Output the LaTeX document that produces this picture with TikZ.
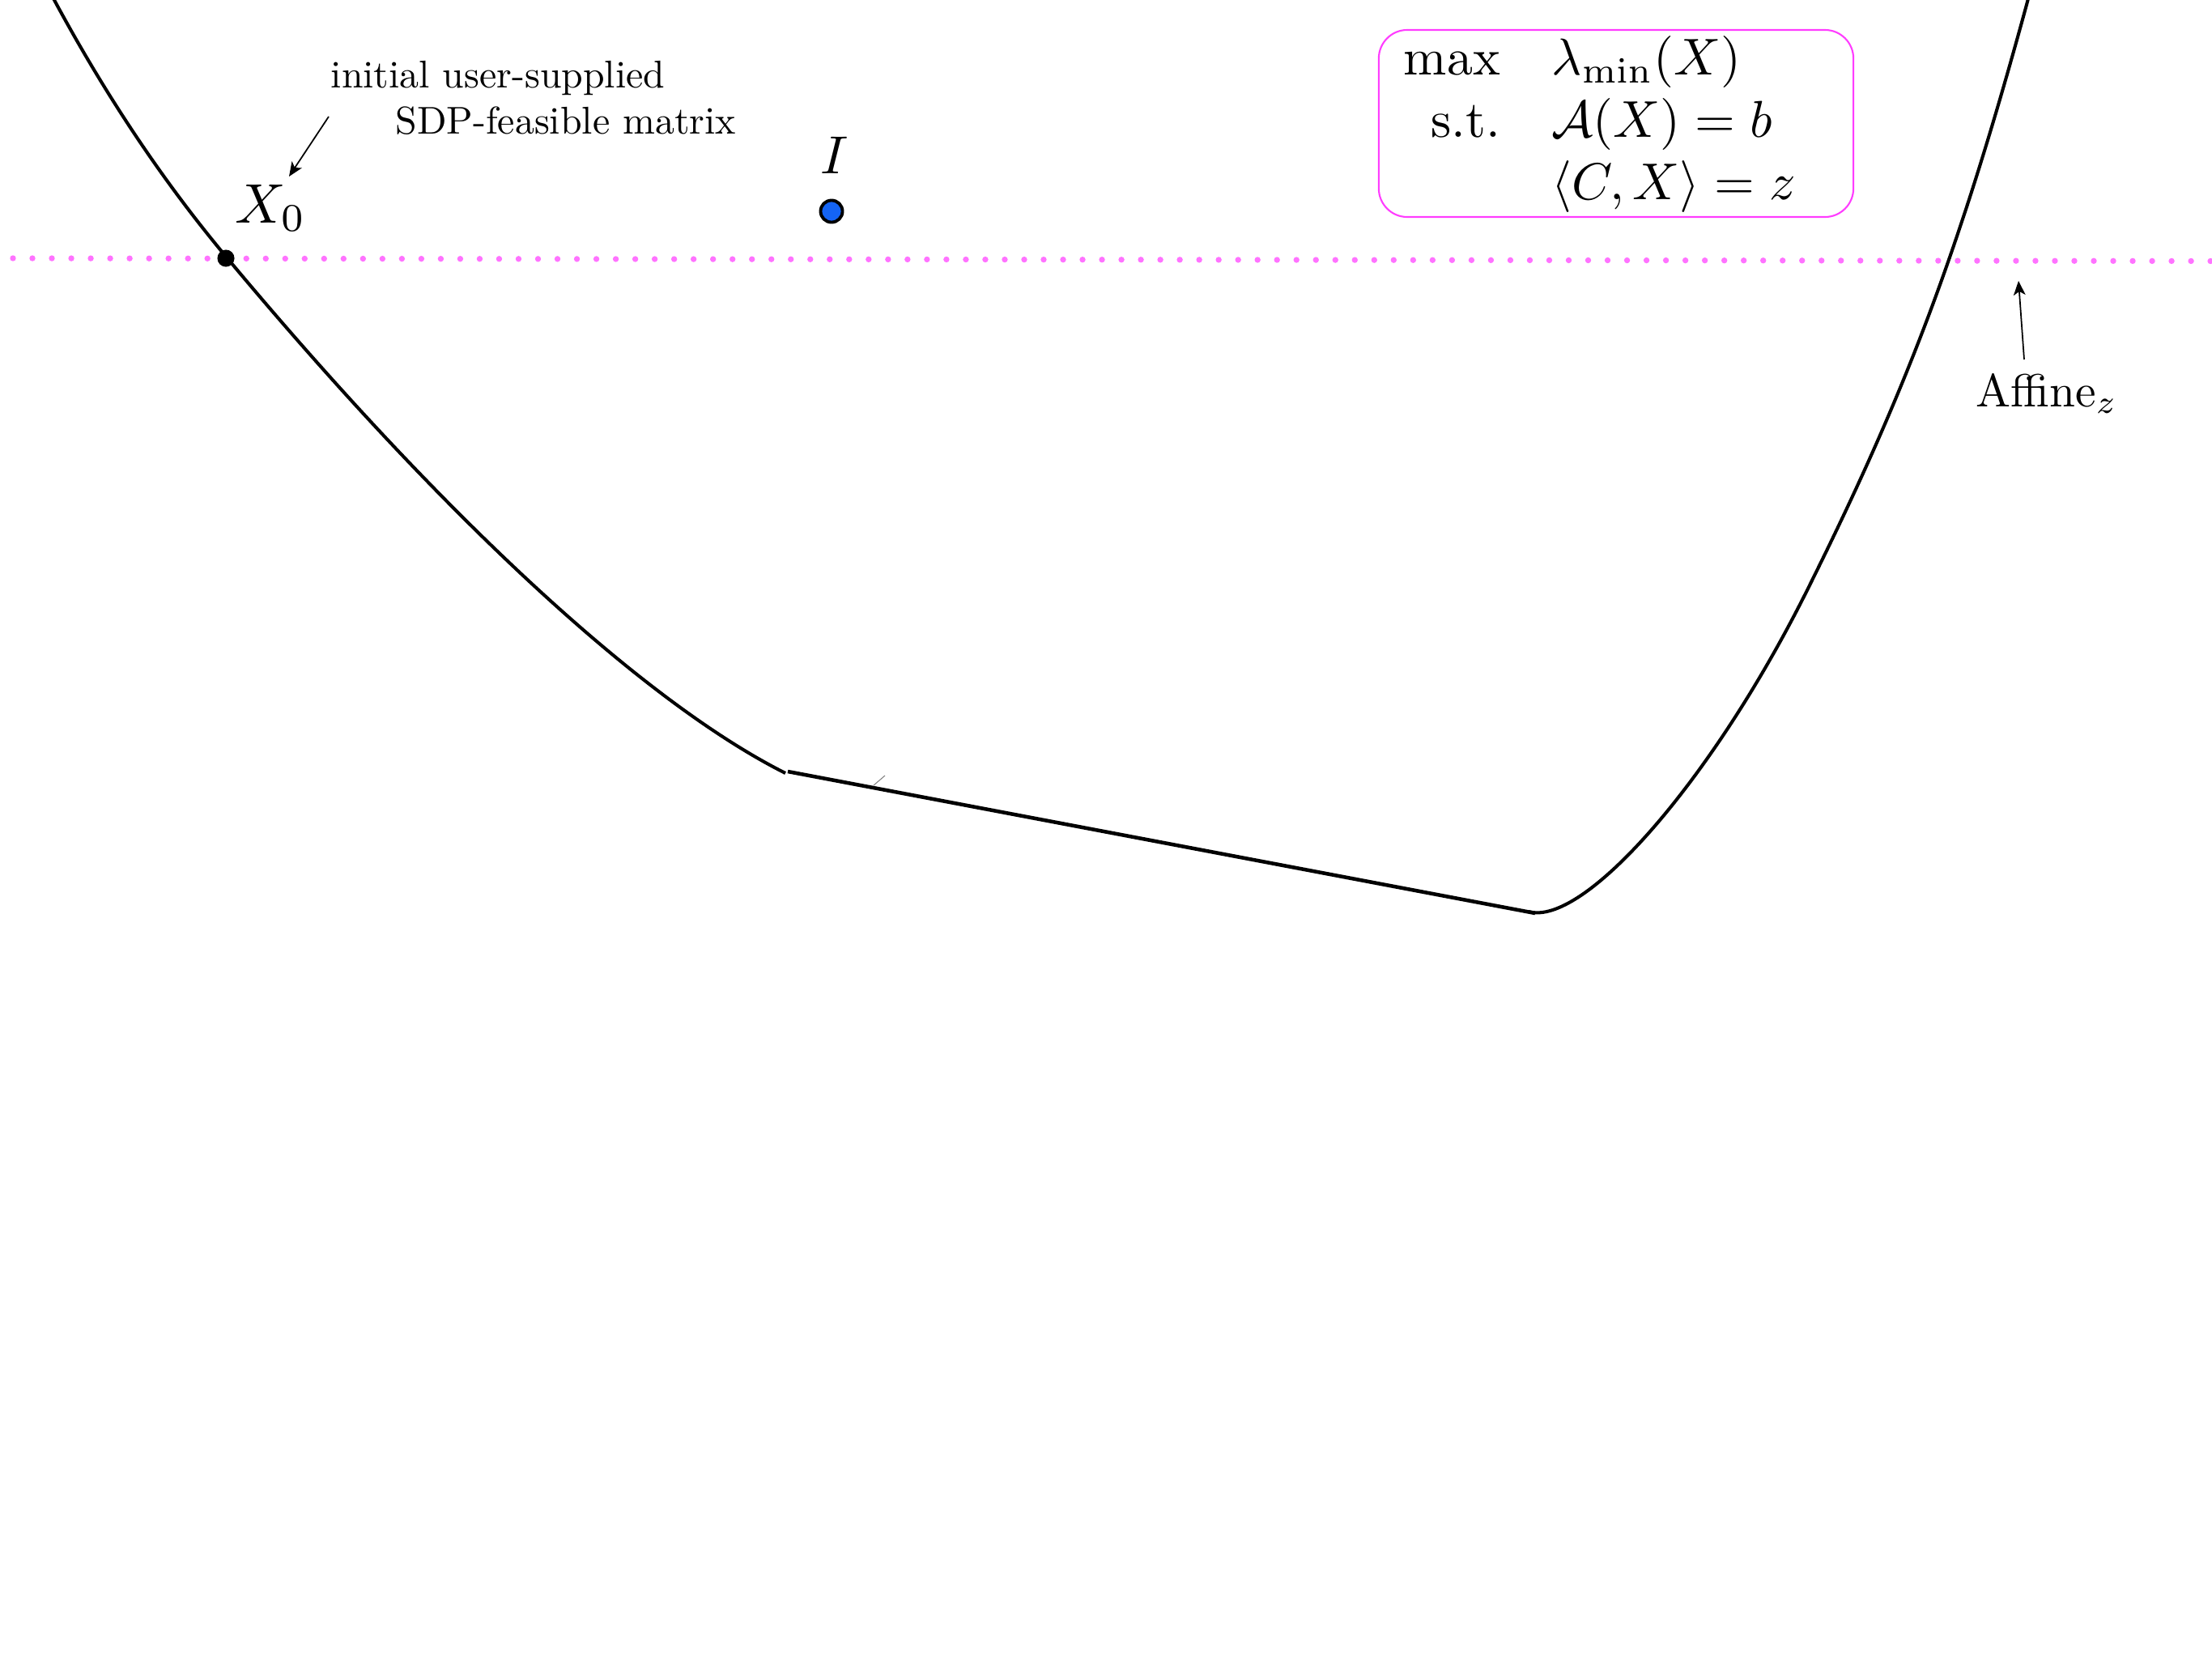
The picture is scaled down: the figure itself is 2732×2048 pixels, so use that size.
\RequirePackage{fix-cm}
\documentclass[tikz,border=0pt]{standalone}
\usepackage{graphicx}
\usetikzlibrary{arrows.meta}
\definecolor{boxmag}{RGB}{255,60,255}
\definecolor{dotmag}{RGB}{255,115,255}
\definecolor{iblue}{RGB}{20,100,245}
\tikzset{
  curve/.style={line width=1.15pt, line join=round},
  segline/.style={line width=1.3pt},
  dotline/.style={dotmag, line width=2.1pt, line cap=round, dash pattern=on 0pt off 6.83pt},
  ptr/.style={line width=0.5pt, -{Stealth[length=5pt,width=4.2pt,inset=1.3pt]}},
  lbl/.style={anchor=base west, inner sep=0pt, font=\fontsize{10}{12}\selectfont},
  probbox/.style={draw=boxmag, line width=0.6pt, rounded corners=10pt, inner sep=0pt,
                  minimum width=166.7pt, minimum height=65.7pt}
}
\begin{document}
\begin{tikzpicture}[x=0.01cm,y=-0.01cm]
\useasboundingbox (0,0) rectangle (2732,2048);
\clip (0,0) rectangle (2732,2048);

% dotted affine line
\coordinate (dl) at (16,319);
\coordinate (dr) at (2740,322.5);
\draw[dotline] (dl) -- (dr);

% boundary of feasible set
\coordinate (L0) at (67,0);
\coordinate (LX) at (280,318);
\coordinate (L1) at (970,955);
\draw[curve] (58,-17) -- (L0) .. controls (128,113) and (198,220) .. (LX)
             .. controls (547,638) and (795,867) .. (L1);
\coordinate (segA) at (973,953);
\coordinate (segB) at (1896,1128);
\draw[segline] (segA) -- (segB);
\coordinate (R0) at (1888,1126);
\coordinate (RM) at (2233,727);
\coordinate (R1) at (2510,-20);
\draw[curve] (R0) .. controls (1955,1145) and (2113,968) .. (RM)
             .. controls (2357,478) and (2424,299) .. (R1);
\coordinate (artA) at (1079,970);
\coordinate (artB) at (1093,958);
\draw[gray, line width=0.3pt] (artA) -- (artB);

% X0
\node[circle, fill=black, inner sep=0pt, minimum size=6pt] (x0dot) at (279,319) {};
\node[lbl] (x0lbl) at (290,275) {\scalebox{1.96}{$X_0$}};

% I
\node[circle, fill=iblue, draw=black, line width=1.1pt, inner sep=0pt, minimum size=7.7pt] (idot) at (1027,261) {};
\node[lbl] (ilbl) at (1013,214) {\scalebox{1.88}{$I$}};

% annotation
\node[lbl] (init1) at (408,108) {\scalebox{1.36}{initial user-supplied}};
\node[lbl] (init2) at (488,165) {\scalebox{1.36}{SDP-feasible matrix}};
\coordinate (a1s) at (406,144);
\coordinate (a1e) at (357,218);
\draw[ptr] (a1s) -- (a1e);

% Affine_z
\node[lbl] (aff) at (2440,502) {\scalebox{1.632}{Affine$_z$}};
\coordinate (a2s) at (2500,444);
\coordinate (a2e) at (2493,347);
\draw[ptr] (a2s) -- (a2e);

% problem box
\node[probbox] (box) at (1996,152.5) {};
\node[lbl] (prob) at (1701,170)
  {\scalebox{1.82}{$\begin{array}{rl}
    \mbox{max} & \lambda_{\min}(X)\\
    \mbox{s.t.} & \mathcal{A}(X)=b\\
     & \langle C,X\rangle = z
  \end{array}$}};
\end{tikzpicture}
\end{document}
